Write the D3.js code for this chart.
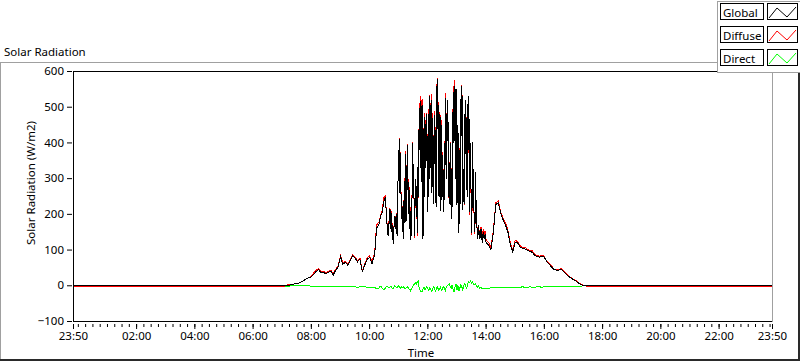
<!DOCTYPE html>
<html><head><meta charset="utf-8">
<script src="https://cdn.jsdelivr.net/npm/d3@7"></script>
<style>
html,body{margin:0;padding:0;background:#fff;}
svg{display:block;font-family:"Noto Sans",sans-serif;font-size:11.5px;}
</style></head><body>
<svg id="chart" width="800" height="361"></svg>
<script>
const chartTitle = "Solar Radiation";
const xAxisTitle = "Time";
const yAxisTitle = "Solar Radiation (W/m2)";
const seriesNames = ["Global", "Diffuse", "Direct"];
const seriesColors = ["#000000", "#ff0000", "#00ff00"];
const xTickLabels = ["23:50","02:00","04:00","06:00","08:00","10:00","12:00","14:00","16:00","18:00","20:00","22:00","23:50"];
const yTickValues = [-100, 0, 100, 200, 300, 400, 500, 600];

const sampleTimes = ["23:50",
"07:00","07:05","07:10","07:15","07:20","07:25","07:30","07:35","07:40","07:45","07:50","07:55",
"08:00","08:05","08:10","08:15","08:20","08:25","08:30","08:35","08:40","08:45","08:50","08:55",
"09:00","09:05","09:10","09:15","09:20","09:25","09:30","09:35","09:40","09:45","09:50","09:55",
"10:00","10:05",
"10:10","10:12","10:14","10:16","10:18","10:20","10:22","10:24","10:26","10:28","10:30","10:32","10:34","10:36","10:38",
"10:40","10:41","10:42","10:43","10:44","10:45","10:46","10:47","10:48","10:49",
"10:50","10:51","10:52","10:53","10:54","10:55","10:56","10:57","10:58","10:59",
"11:00","11:01","11:02","11:03","11:04","11:05","11:06","11:07","11:08","11:09",
"11:10","11:11","11:12","11:13","11:14","11:15","11:16","11:17","11:18","11:19",
"11:20","11:21","11:22","11:23","11:24","11:25","11:26","11:27","11:28","11:29",
"11:30","11:31","11:32","11:33","11:34","11:35","11:36","11:37","11:38","11:39",
"11:40","11:41","11:42","11:43","11:44","11:45","11:46","11:47","11:48","11:49",
"11:50","11:51","11:52","11:53","11:54","11:55","11:56","11:57","11:58","11:59",
"12:00","12:01","12:02","12:03","12:04","12:05","12:06","12:07","12:08","12:09",
"12:10","12:11","12:12","12:13","12:14","12:15","12:16","12:17","12:18","12:19",
"12:20","12:21","12:22","12:23","12:24","12:25","12:26","12:27","12:28","12:29",
"12:30","12:31","12:32","12:33","12:34","12:35","12:36","12:37","12:38","12:39",
"12:40","12:41","12:42","12:43","12:44","12:45","12:46","12:47","12:48","12:49",
"12:50","12:51","12:52","12:53","12:54","12:55","12:56","12:57","12:58","12:59",
"13:00","13:01","13:02","13:03","13:04","13:05","13:06","13:07","13:08","13:09",
"13:10","13:11","13:12","13:13","13:14","13:15","13:16","13:17","13:18","13:19",
"13:20","13:21","13:22","13:23","13:24","13:25","13:26","13:27","13:28","13:29",
"13:30","13:31","13:32","13:33","13:34","13:35","13:36","13:37","13:38","13:39",
"13:40","13:41","13:42","13:43","13:44","13:45","13:46","13:47","13:48","13:49",
"13:50",
"13:52","13:54","13:56","13:58","14:00",
"14:05","14:10","14:15","14:20","14:25","14:30","14:35","14:40","14:45","14:50","14:55",
"15:00","15:05","15:10","15:15","15:20","15:25","15:30","15:35","15:40","15:45","15:50","15:55",
"16:00","16:05","16:10","16:15","16:20","16:25","16:30","16:35","16:40","16:45","16:50","16:55",
"17:00","17:05","17:10","17:15","17:20","17:25",
"17:30","23:50"];

const globalValues = [0,
0,0,1,2,3,5,6,8,11,15,20,23,25,33,40,46,36,38,33,38,41,30,43,52,81,60,66,58,70,84,78,67,75,40,58,74,80,62,
85,110,160,165,170,175,190,200,205,225,240,245,215,170,140,
175,205,214,160,180,205,150,170,132,118,
160,178,195,160,185,200,150,140,260,320,
380,260,410,350,300,240,186,220,150,190,
130,250,177,300,369,180,250,330,394,280,
200,290,160,230,127,210,140,180,355,400,
260,330,160,140,300,260,200,280,149,230,
370,250,480,380,518,330,460,290,505,350,
130,300,440,250,473,330,420,480,350,420,
206,330,480,300,530,480,400,260,520,430,
355,230,420,340,479,420,300,220,560,440,
580,500,366,250,420,480,300,210,450,390,
250,330,206,290,400,240,527,360,480,300,
520,490,430,250,310,230,400,330,186,260,
350,220,540,400,558,480,400,300,552,470,
225,320,450,290,149,260,380,230,524,420,
558,480,212,260,327,230,480,370,520,440,
300,250,510,380,530,450,206,300,400,260,
149,220,403,330,250,210,180,150,318,250,
200,170,141,130,169,150,130,145,160,135,
158,
121,150,130,145,120,
115,101,150,228,232,203,185,170,150,115,
95,122,120,108,105,103,99,96,94,85,
82,80,82,80,68,60,52,45,44,44,
45,40,32,26,22,17,14,8,4,1,
0,
0,0];

const diffuseValues = [-2,
-2,-2,3,3,3,5,6,8,11,15,20,23,26,36,43,49,39,41,36,41,44,33,46,55,84,63,69,61,73,87,81,71,78,43,61,78,84,67,
90,116,168,174,178,179,192,203,212,234,250,252,218,171,144,
181,209,217,162,181,208,155,177,140,124,
164,180,195,161,187,204,156,145,263,321,
379,262,414,356,307,244,188,223,155,194,
133,255,183,307,377,186,254,333,396,285,
207,299,170,242,141,221,149,187,360,402,
258,327,155,134,292,254,196,273,139,218,
356,246,486,389,530,344,476,307,523,363,
138,305,443,258,485,339,426,484,352,425,
215,341,494,309,535,488,411,273,536,441,
362,234,422,346,489,432,315,230,566,444,
583,508,378,260,428,486,304,218,463,401,
259,335,208,294,406,250,541,369,484,302,
520,489,427,246,305,229,402,335,194,263,
348,223,549,413,576,491,404,300,548,474,
237,325,449,297,164,270,386,231,521,420,
561,488,225,265,325,226,474,368,521,444,
307,250,504,371,518,440,197,289,386,249,
141,211,392,322,245,206,177,146,312,248,
202,173,146,132,169,153,137,150,164,140,
164,
130,158,137,154,128,
122,107,156,233,237,207,189,176,155,120,
99,127,124,112,108,107,103,99,98,89,
85,83,86,82,69,62,55,47,45,46,
48,42,34,28,23,18,15,9,5,1,
0,
-2,-2];

const directValues = [-2,
-2,-2,-2,-1,0,0,0,0,0,0,0,0,-1,-3,-3,-3,-3,-3,-3,-3,-3,-3,-3,-3,-3,-3,-3,-3,-3,-3,-3,-4,-3,-3,-3,-4,-4,-5,
-5,-6,-8,-9,-8,-4,-2,-3,-7,-9,-10,-7,-3,-1,-4,
-6,-4,-3,-2,-1,-3,-5,-7,-8,-6,
-4,-2,0,-1,-2,-4,-6,-5,-3,-1,
1,-2,-4,-6,-7,-4,-2,-3,-5,-4,
-3,-5,-6,-7,-8,-6,-4,-3,-2,-5,
-7,-9,-10,-12,-14,-11,-9,-7,-5,-2,
2,3,5,6,8,6,4,7,10,12,
14,4,-6,-9,-12,-14,-16,-17,-18,-13,
-8,-5,-3,-8,-12,-9,-6,-4,-2,-5,
-9,-11,-14,-9,-5,-8,-11,-13,-16,-11,
-7,-4,-2,-6,-10,-12,-15,-10,-6,-4,
-3,-8,-12,-10,-8,-6,-4,-8,-13,-11,
-9,-5,-2,-4,-6,-10,-14,-9,-4,-2,
0,1,3,4,5,1,-2,-5,-8,-3,
2,-3,-9,-13,-18,-11,-4,0,4,-4,
-12,-5,1,-7,-15,-10,-6,-1,3,0,
-3,-8,-13,-5,2,4,6,2,-1,-4,
-7,0,6,9,12,10,9,11,14,11,
8,9,11,8,5,4,3,4,6,2,
-2,-3,-5,-2,0,-3,-7,-5,-4,-5,
-6,
-9,-8,-7,-9,-8,
-7,-6,-6,-5,-5,-4,-4,-6,-5,-5,
-4,-5,-4,-4,-3,-4,-4,-3,-4,-4,
-3,-3,-4,-2,-1,-2,-3,-2,-1,-2,
-3,-2,-2,-2,-1,-1,-1,-1,-1,0,
0,
-2,-2];

// time label -> minutes; the first label of a list is the previous day's 23:50, the last the end of the day
function toMinutes(label, i) {
  const [h, m] = label.split(":").map(Number);
  const v = h * 60 + m;
  if (i === 0 && v > 720) return v - 1440;
  return v;
}
const sampleMinutes = sampleTimes.map(toMinutes);
const xTickMinutes = xTickLabels.map(toMinutes);

const svg = d3.select("#chart");
const plot = {left: 73.5, right: 772.5, top: 71.5, bottom: 321.5};
const x = d3.scaleLinear().domain([xTickMinutes[0], xTickMinutes[xTickMinutes.length - 1]]).range([plot.left, plot.right]);
const y = d3.scaleLinear().domain([yTickValues[0], yTickValues[yTickValues.length - 1]]).range([plot.bottom, plot.top]);

// outer panel frame
svg.append("line").attr("x1", 0).attr("x2", 717).attr("y1", 62.5).attr("y2", 62.5).attr("stroke", "#a0a0a0");
svg.append("line").attr("x1", 0.5).attr("x2", 0.5).attr("y1", 62).attr("y2", 361).attr("stroke", "#a0a0a0");
svg.append("rect").attr("x", 0).attr("y", 359).attr("width", 800).attr("height", 2).attr("fill", "#2a2a2a");
svg.append("rect").attr("x", 798).attr("y", 62).attr("width", 2).attr("height", 299).attr("fill", "#2a2a2a");

// title
svg.append("text").attr("x", 4).attr("y", 55.5).attr("fill", "#000").text(chartTitle);

// data
const series = [
  {name: seriesNames[2], color: seriesColors[2], values: directValues},
  {name: seriesNames[1], color: seriesColors[1], values: diffuseValues},
  {name: seriesNames[0], color: seriesColors[0], values: globalValues}
];
const line = d3.line().x(d => x(d[0])).y(d => y(d[1]));
const dataG = svg.append("g");
series.forEach(s => {
  dataG.append("path")
    .datum(sampleMinutes.map((t, i) => [t, s.values[i]]))
    .attr("fill", "none")
    .attr("stroke", s.color)
    .attr("stroke-width", 1)
    .attr("shape-rendering", "crispEdges")
    .attr("d", line);
});

// plot frame
svg.append("line").attr("x1", 73).attr("x2", 773).attr("y1", plot.top).attr("y2", plot.top).attr("stroke", "#000").attr("shape-rendering", "crispEdges");
svg.append("line").attr("x1", plot.left).attr("x2", plot.left).attr("y1", 71).attr("y2", 322).attr("stroke", "#000").attr("shape-rendering", "crispEdges");
svg.append("line").attr("x1", 73).attr("x2", 773).attr("y1", plot.bottom).attr("y2", plot.bottom).attr("stroke", "#000").attr("shape-rendering", "crispEdges");
svg.append("line").attr("x1", plot.right).attr("x2", plot.right).attr("y1", 71).attr("y2", 322).attr("stroke", "#a0a0a0").attr("shape-rendering", "crispEdges");

// y axis
const yAxis = d3.axisLeft(y).tickValues(yTickValues).tickSize(5).tickPadding(3).tickSizeOuter(0).offset(0);
const yg = svg.append("g").attr("transform", "translate(72,0)").call(yAxis);
yg.select(".domain").remove();
yg.selectAll("text").attr("fill", "#000").style("font-family", "'Noto Sans',sans-serif").style("font-size", "11.5px");
yg.selectAll("line").attr("stroke", "#000");

// x axis minor + major ticks
const minorMinutes = d3.range(0, 1440, 15);
const xMinor = d3.axisBottom(x).tickValues(minorMinutes).tickSize(3).tickFormat("").tickSizeOuter(0).offset(0);
const xgm = svg.append("g").attr("transform", "translate(0,324)").call(xMinor);
xgm.select(".domain").remove();
xgm.selectAll("line").attr("stroke", "#000");
const xAxis = d3.axisBottom(x).tickValues(xTickMinutes).tickFormat((d, i) => xTickLabels[i]).tickSize(5).tickPadding(3).tickSizeOuter(0).offset(0);
const xg = svg.append("g").attr("transform", "translate(0,324)").call(xAxis);
xg.select(".domain").remove();
xg.selectAll("line").attr("stroke", "#000");
xg.selectAll("text").attr("fill", "#000").style("font-family", "'Noto Sans',sans-serif").style("font-size", "11.5px");

// axis titles
svg.append("text").attr("x", 421).attr("y", 357).attr("text-anchor", "middle").attr("fill", "#000").text(xAxisTitle);
svg.append("text").attr("transform", "translate(35,183) rotate(-90)").attr("text-anchor", "middle").attr("fill", "#000").text(yAxisTitle);

// legend
const lg = svg.append("g");
lg.append("rect").attr("x", 717.5).attr("y", 1.5).attr("width", 90).attr("height", 71).attr("fill", "#fff").attr("stroke", "#a0a0a0");
const legendItems = [
  {name: seriesNames[0], color: seriesColors[0]},
  {name: seriesNames[1], color: seriesColors[1]},
  {name: seriesNames[2], color: seriesColors[2]}
];
legendItems.forEach((it, i) => {
  const top = 3 + 23 * i;
  const g = lg.append("g").attr("transform", `translate(0,${top})`);
  g.append("rect").attr("x", 720.5).attr("y", 0.5).attr("width", 43).attr("height", 16).attr("fill", "#fff").attr("stroke", "#000");
  g.append("text").attr("x", 723).attr("y", 13.5).attr("fill", "#000").text(it.name);
  g.append("rect").attr("x", 767.5).attr("y", 0.5).attr("width", 30).attr("height", 16).attr("fill", "#fff").attr("stroke", "#000");
  g.append("path").attr("d", "M769,15L777,5L787,14L796,4").attr("fill", "none").attr("stroke", it.color).attr("stroke-width", 1);
});
</script>
</body></html>
